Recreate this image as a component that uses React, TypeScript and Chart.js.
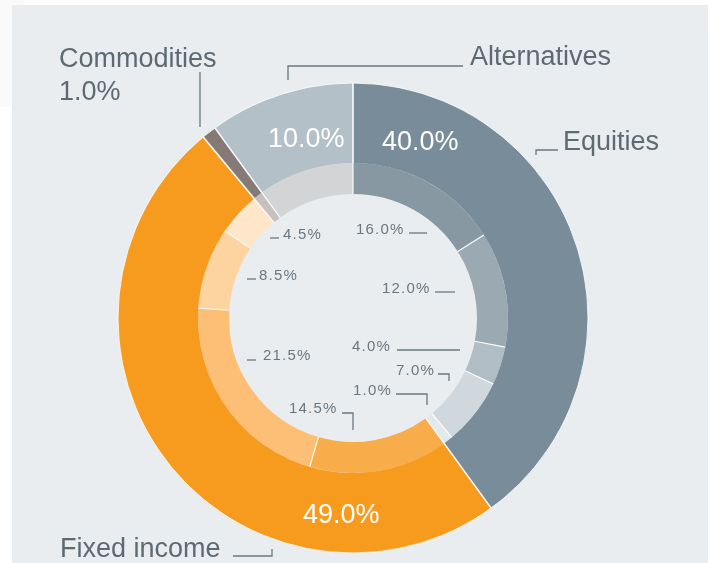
import React, { useEffect, useRef } from "react";
import { Chart, registerables } from "chart.js";

Chart.register(...registerables);

// ---- Data ----
const outerCategories = ["Equities", "Fixed income", "Commodities", "Alternatives"];
const outerValues = [40, 49, 1, 10];
const outerColors = ["#788d99", "#f79b1f", "#857a76", "#b4c0c7"];

const innerCategories = [
  "Equities A", "Equities B", "Equities C", "Equities D", "Equities E",
  "Fixed income A", "Fixed income B", "Fixed income C", "Fixed income D",
  "Commodities", "Alternatives",
];
const innerValues = [16, 12, 4, 7, 1, 14.5, 21.5, 8.5, 4.5, 1, 10];
const innerColors = [
  "#8798a3", "#9aa9b2", "#b1bdc4", "#d0d8de", "#e3e8eb",
  "#f9ac4a", "#fdbf75", "#fdd49f", "#fde6c9",
  "#c8c0bd", "#d3d4d6",
];

const fmt = (v: number) => v.toFixed(1) + "%";

// ---- Layout of annotations (offsets relative to the donut center) ----
type Pt = [number, number];
const TEXT = "#5e6a72";
const SMALL_TEXT = "#6b7780";
const LINE = "#6b7780";
const OUTER_RADIUS = 235;
const HOLE_RADIUS = 124;

const bigLabels: Array<[string, number, number, CanvasTextAlign, string]> = [
  [outerCategories[2], -294, -251, "left", TEXT],
  [fmt(outerValues[2]), -294, -218, "left", TEXT],
  [outerCategories[3], 117, -253, "left", TEXT],
  [outerCategories[0], 210, -168, "left", TEXT],
  [outerCategories[1], -293, 239, "left", TEXT],
  [fmt(outerValues[0]), 29, -168, "left", "#ffffff"],
  [fmt(outerValues[3]), -85, -171, "left", "#ffffff"],
  [fmt(outerValues[1]), -50, 205, "left", "#ffffff"],
];
const bigLeaders: Pt[][] = [
  [[-153, -246], [-153, -191]],
  [[-65, -238], [-65, -252], [110, -252]],
  [[183, -163], [183, -168], [205, -168]],
  [[-120, 238], [-81, 238], [-81, 231]],
];

const smallLabels: Array<[number, number, number, Pt[]]> = [
  [0, 3, -84, [[56, -85], [74, -85]]],
  [1, 29, -25, [[82, -26], [102, -26]]],
  [2, -1, 33, [[44, 32], [107, 32]]],
  [3, 43, 57, [[85, 56], [96, 56], [96, 63]]],
  [4, 0, 77, [[43, 76], [74, 76], [74, 87]]],
  [5, -64, 95, [[-11, 95], [0, 95], [0, 112]]],
  [6, -90, 42, [[-106, 42], [-97, 42]]],
  [7, -94, -38, [[-106, -39], [-97, -39]]],
  [8, -70, -79, [[-83, -80], [-74, -80]]],
];

const annotationPlugin = {
  id: "annotations",
  afterDatasetsDraw(chart: any) {
    const ctx: CanvasRenderingContext2D = chart.ctx;
    const meta0 = chart.getDatasetMeta(0);
    const meta1 = chart.getDatasetMeta(1);
    const first = meta0.data[0];
    const cx = first.x;
    const cy = first.y;
    ctx.save();
    const drawSeps = (meta: any, width: number) => {
      meta.data.forEach((arc: any) => {
        const a = arc.startAngle;
        ctx.beginPath();
        ctx.moveTo(cx + Math.cos(a) * arc.innerRadius, cy + Math.sin(a) * arc.innerRadius);
        ctx.lineTo(cx + Math.cos(a) * arc.outerRadius, cy + Math.sin(a) * arc.outerRadius);
        ctx.strokeStyle = "rgba(255,255,255,0.95)";
        ctx.lineWidth = width;
        ctx.stroke();
      });
    };
    drawSeps(meta0, 1.6);
    drawSeps(meta1, 1.2);
    ctx.beginPath();
    ctx.arc(cx, cy, first.outerRadius, 0, Math.PI * 2);
    ctx.strokeStyle = "rgba(255,255,255,0.8)";
    ctx.lineWidth = 1;
    ctx.stroke();

    ctx.textBaseline = "alphabetic";
    ctx.font = "27px 'Liberation Sans', Arial, sans-serif";
    bigLabels.forEach(([t, dx, dy, align, color]) => {
      ctx.fillStyle = color;
      ctx.textAlign = align;
      ctx.fillText(t, cx + dx, cy + dy);
    });
    ctx.strokeStyle = LINE;
    ctx.lineWidth = 1.3;
    const poly = (pts: Pt[]) => {
      ctx.beginPath();
      pts.forEach(([x, y], i) => {
        if (i === 0) ctx.moveTo(cx + x, cy + y);
        else ctx.lineTo(cx + x, cy + y);
      });
      ctx.stroke();
    };
    bigLeaders.forEach(poly);

    ctx.font = "15px 'Liberation Sans', Arial, sans-serif";
    (ctx as any).letterSpacing = "1.2px";
    ctx.fillStyle = SMALL_TEXT;
    ctx.textAlign = "left";
    smallLabels.forEach(([idx, dx, dy, pts]) => {
      ctx.fillText(fmt(innerValues[idx]), cx + dx, cy + dy);
      poly(pts);
    });
    (ctx as any).letterSpacing = "0px";
    ctx.restore();
  },
};

export default function App() {
  const ref = useRef<HTMLCanvasElement>(null);
  useEffect(() => {
    document.body.style.margin = "0";
    const chart = new Chart(ref.current!, {
      type: "doughnut",
      data: {
        labels: innerCategories,
        datasets: [
          {
            label: "Asset class",
            data: outerValues,
            backgroundColor: outerColors,
            borderWidth: 0,
            weight: 80,
          },
          {
            label: "Sub-category",
            data: innerValues,
            backgroundColor: innerColors,
            borderWidth: 0,
            weight: 31,
          },
        ],
      },
      options: {
        animation: false,
        responsive: false,
        radius: OUTER_RADIUS,
        cutout: ((HOLE_RADIUS / OUTER_RADIUS) * 100).toFixed(3) + "%",
        layout: { padding: { left: 0, right: 6, top: 73, bottom: 0 } },
        plugins: {
          legend: { display: false },
          tooltip: { enabled: false },
        },
      } as any,
      plugins: [annotationPlugin],
    });
    return () => chart.destroy();
  }, []);

  return (
    <div style={{ position: "absolute", left: 0, top: 0, width: 712, height: 563, background: "#ffffff", overflow: "hidden" }}>
      <div style={{ position: "absolute", left: 0, top: 0, width: 24, height: 107, background: "#fafafa" }} />
      <div style={{ position: "absolute", left: 12, top: 5, width: 696, height: 558, background: "#e9edf0" }} />
      <canvas ref={ref} width={712} height={563} style={{ position: "absolute", left: 0, top: 0, width: 712, height: 563 }} />
    </div>
  );
}
